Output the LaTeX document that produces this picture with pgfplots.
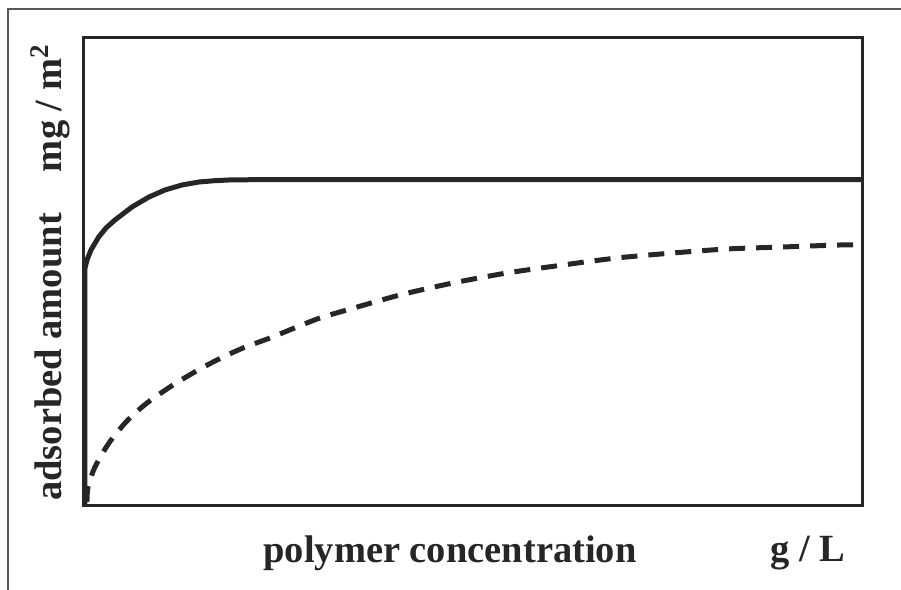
\documentclass[border=0pt]{standalone}
\usepackage{fontspec}
\setmainfont{Liberation Serif}
\usepackage{pgfplots}
\pgfplotsset{compat=1.18}

\begin{document}
\begin{tikzpicture}[x=0.4pt,y=0.4pt]
\useasboundingbox (-84,-84) rectangle (817,506);
\draw[black!65, line width=0.7pt] (817,497) -- (-76,497) -- (-76,-84);
\begin{axis}[
  at={(0,0)}, anchor=south west,
  scale only axis,
  width=311.2pt, height=187.2pt,
  xmin=0, xmax=778, ymin=0, ymax=468,
  xtick=\empty, ytick=\empty,
  axis line style={line width=1.2pt, black!85},
  clip=false,
]
% plateau reached quickly
\addplot[black!85, line width=2pt, line join=round] coordinates {
(1,0) (1,120) (1,238) (3,246) (7,256) (14.7,269) (22,278) (31,286) (48,299)
(65,309) (81,316) (98,321) (115,324) (131,325.3) (145,326) (170,326.3) (778,326.3)
};
% slow uptake
\addplot[black!85, line width=2pt, smooth, dash pattern=on 6.4pt off 4.4pt] coordinates {
(3,4) (4,19) (11,39) (25,63) (43,85) (63,103) (86,119) (109,133) (133,146)
(159,158) (186,168) (213,179) (236,188) (263,196) (316,211) (369,223)
(423,233) (479,241) (533,248) (589,253) (643,257) (699,259) (756,261) (778,261)
};
\end{axis}
\begin{scope}[font=\fontsize{15.4}{18}\selectfont\bfseries, text=black!85]
\node[anchor=base] at (366,-57) {polymer concentration};
\node[anchor=base] at (724,-56) {g / L};
\node[anchor=base, rotate=90] at (-22,149) {adsorbed amount};
\node[anchor=base, rotate=90] at (-22,398) {mg / m\textsuperscript{2}};
\end{scope}
\end{tikzpicture}
\end{document}
